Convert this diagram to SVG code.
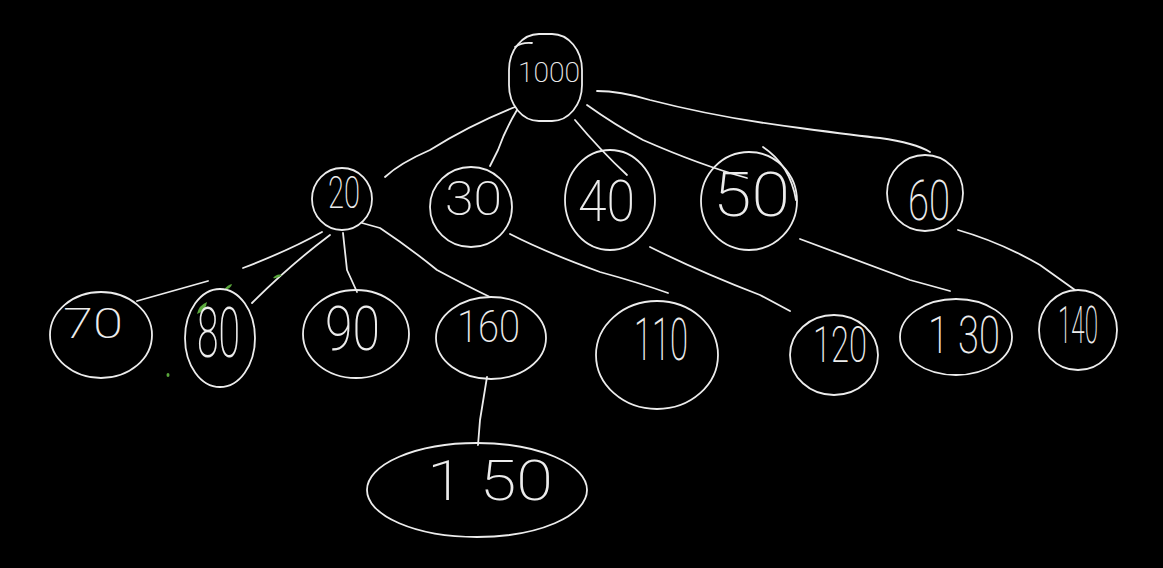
<svg xmlns="http://www.w3.org/2000/svg" width="1163" height="568" viewBox="0 0 1163 568">
<style>
.o{fill:none;stroke:#ececec;stroke-width:1.8;stroke-linecap:round;stroke-linejoin:round}
.t{fill:#ececec;font-family:Roboto,"Liberation Sans",sans-serif;font-weight:200;text-anchor:start}
.g{fill:#5aa83c}
</style>
<rect width="1163" height="568" fill="#000"/>
<g id="connectors" class="o">
<path d="M515,107 Q470,125 430,150 Q400,163 385,177"/>
<path d="M517,110 Q505,130 498,150 L490,166"/>
<path d="M575,120 Q600,150 627,175"/>
<path d="M587,105 Q615,125 643,140 Q700,165 747,178"/>
<path d="M597,91 Q620,91 650,100 Q720,118 800,128 Q860,136 880,138 Q915,143 930,152"/>
<path d="M322,232 Q290,250 243,268 M208,281 L137,301"/>
<path d="M330,235 Q290,265 252,303"/>
<path d="M343,233 L347,270 L357,292"/>
<path d="M362,223 L380,228 Q410,248 437,270 Q465,285 490,297"/>
<path d="M510,234 Q545,252 600,272 Q640,283 668,293"/>
<path d="M650,247 Q700,272 760,295 L790,311"/>
<path d="M800,239 Q857,260 910,280 L950,291"/>
<path d="M958,230 Q1000,242 1040,265 L1075,290"/>
<path d="M487,377 L480,420 L478,445"/>
</g>
<g class="g">
<path d="M197,314 Q199,305 207,302 Q206,311 197,314 Z"/>
<path d="M224,290 Q227,285 232,284 Q231,289 224,290 Z"/>
<path d="M273,278 Q277,273 282,275 Q278,279 273,278 Z"/>
<ellipse cx="168" cy="375" rx="1.5" ry="2"/>
</g>
<g id="n1000"><rect class="o" x="509" y="34" width="73" height="87" rx="30" ry="36"/><path class="o" d="M515,47 Q522,42 532,43"/><text class="t" x="518" y="82" font-size="28" textLength="62" lengthAdjust="spacingAndGlyphs">1000</text></g>
<g id="n20"><ellipse class="o" cx="342" cy="199" rx="30" ry="31"/><text class="t" x="328" y="208" font-size="44" textLength="32" lengthAdjust="spacingAndGlyphs">20</text></g>
<g id="n30"><ellipse class="o" cx="471" cy="207" rx="41" ry="40"/><text class="t" x="445" y="215" font-size="48" textLength="57" lengthAdjust="spacingAndGlyphs">30</text></g>
<g id="n40"><ellipse class="o" cx="610" cy="200" rx="45" ry="50"/><text class="t" x="578" y="221" font-size="58" textLength="57" lengthAdjust="spacingAndGlyphs">40</text></g>
<g id="n50"><ellipse class="o" cx="749" cy="201" rx="48" ry="49"/><path class="o" d="M763,147 Q790,165 796,200"/><text class="t" x="713" y="216" font-size="62" textLength="77" lengthAdjust="spacingAndGlyphs">50</text></g>
<g id="n60"><ellipse class="o" cx="925" cy="193" rx="38" ry="38"/><text class="t" x="908" y="220" font-size="56" textLength="42" lengthAdjust="spacingAndGlyphs">60</text></g>
<g id="n70"><ellipse class="o" cx="101" cy="335" rx="51" ry="43"/><text class="t" x="63" y="338" font-size="42" textLength="60" lengthAdjust="spacingAndGlyphs">70</text></g>
<g id="n80"><ellipse class="o" cx="220" cy="338" rx="35" ry="49"/><text class="t" x="197" y="357" font-size="70" textLength="43" lengthAdjust="spacingAndGlyphs">80</text></g>
<g id="n90"><ellipse class="o" cx="356" cy="334" rx="53" ry="44"/><text class="t" x="325" y="350" font-size="62" textLength="55" lengthAdjust="spacingAndGlyphs">90</text></g>
<g id="n160"><ellipse class="o" cx="491" cy="338" rx="55" ry="41"/><text class="t" x="457" y="342" font-size="44" textLength="63" lengthAdjust="spacingAndGlyphs">160</text></g>
<g id="n110"><ellipse class="o" cx="657" cy="355" rx="61" ry="54"/><text class="t" x="634" y="360" font-size="60" textLength="54" lengthAdjust="spacingAndGlyphs">110</text></g>
<g id="n120"><ellipse class="o" cx="834" cy="355" rx="44" ry="40"/><text class="t" x="813" y="362" font-size="50" textLength="54" lengthAdjust="spacingAndGlyphs">120</text></g>
<g id="n130"><ellipse class="o" cx="956" cy="337" rx="56" ry="38"/><text class="t" x="928" y="353" font-size="52" textLength="72" lengthAdjust="spacingAndGlyphs">1 30</text></g>
<g id="n140"><ellipse class="o" cx="1078" cy="330" rx="39" ry="40"/><text class="t" x="1058" y="343" font-size="52" textLength="40" lengthAdjust="spacingAndGlyphs">140</text></g>
<g id="n150"><ellipse class="o" cx="477" cy="490" rx="110" ry="47"/><text class="t" x="427" y="500" font-size="55" textLength="126" lengthAdjust="spacingAndGlyphs">1 50</text></g>
</svg>
